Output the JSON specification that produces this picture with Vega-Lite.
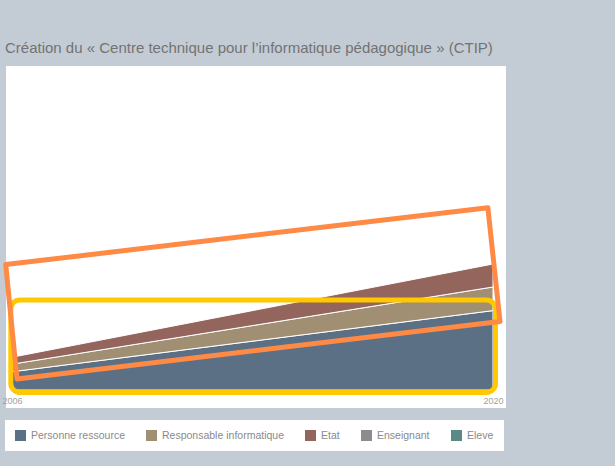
{
  "$schema": "https://vega.github.io/schema/vega-lite/v6.json",
  "width": 500,
  "height": 342,
  "autosize": {"type": "none"},
  "padding": {"left": 6, "top": 66, "right": 109, "bottom": 58},
  "background": "#c3ccd4",
  "config": {"view": {"fill": "white", "stroke": null}, "font": "Liberation Sans"},
  "title": {
    "text": "Création du « Centre technique pour l’informatique pédagogique » (CTIP)",
    "anchor": "start",
    "frame": "group",
    "fontSize": 15,
    "fontWeight": "normal",
    "color": "#737373",
    "baseline": "alphabetic",
    "offset": 10,
    "dy": 12,
    "dx": -1
  },
  "datasets": {
    "series": [
      {"year": 2006, "role": "Personne ressource", "rank": 1, "value": 5.8},
      {"year": 2020, "role": "Personne ressource", "rank": 1, "value": 25.2},
      {"year": 2006, "role": "Responsable informatique", "rank": 2, "value": 2.4},
      {"year": 2020, "role": "Responsable informatique", "rank": 2, "value": 7.5},
      {"year": 2006, "role": "Etat", "rank": 3, "value": 2.2},
      {"year": 2020, "role": "Etat", "rank": 3, "value": 7.3}
    ],
    "yellowBox": [
      {"year": 2005.965, "year2": 2020.073, "value": 28.57, "value2": -0.79}
    ],
    "orangeBox": [
      {"i": 1, "year": 2005.817, "value": 39.81},
      {"i": 2, "year": 2019.851, "value": 57.87},
      {"i": 3, "year": 2020.204, "value": 21.75},
      {"i": 4, "year": 2006.146, "value": 3.49}
    ]
  },
  "layer": [
    {
      "data": {"name": "series"},
      "mark": {"type": "area", "stroke": "white", "strokeWidth": 1, "opacity": 1},
      "encoding": {
        "x": {
          "field": "year", "type": "quantitative",
          "scale": {"domain": [2006, 2020], "range": [6, 487], "nice": false, "zero": false},
          "axis": {"values": [2006, 2020], "format": "d", "domain": false, "ticks": false, "grid": false, "labelFontSize": 9, "labelColor": "#a0a0a0", "title": null, "offset": -14, "labelPadding": 2, "labelFlush": false}
        },
        "y": {
          "field": "value", "type": "quantitative", "stack": "zero",
          "scale": {"domain": [0, 100], "range": [324, 9], "nice": false, "zero": false},
          "axis": null
        },
        "color": {
          "field": "role", "type": "nominal",
          "scale": {
            "domain": ["Personne ressource", "Responsable informatique", "Etat", "Enseignant", "Eleve"],
            "range": ["#5b7084", "#a08f73", "#93655d", "#8c8c8c", "#5b8a86"]
          },
          "legend": {
            "title": null, "orient": "none", "legendX": -1, "legendY": 354,
            "direction": "horizontal", "columns": 5, "fillColor": "white", "padding": 10,
            "columnPadding": 21, "symbolType": "square", "symbolSize": 121, "symbolStrokeWidth": 0,
            "symbolOpacity": 1, "labelFontSize": 10.5, "labelColor": "#8a8a8a", "labelOffset": 5
          }
        },
        "order": {"field": "rank", "type": "quantitative"}
      }
    },
    {
      "data": {"name": "yellowBox"},
      "mark": {"type": "rect", "filled": false, "stroke": "#ffc800", "strokeWidth": 5, "cornerRadius": 9},
      "encoding": {
        "x": {"field": "year", "type": "quantitative", "scale": {"domain": [2006, 2020], "range": [6, 487], "nice": false, "zero": false}, "axis": {"values": [2006, 2020], "format": "d", "domain": false, "ticks": false, "grid": false, "labelFontSize": 9, "labelColor": "#a0a0a0", "title": null, "offset": -14, "labelPadding": 2, "labelFlush": false}},
        "x2": {"field": "year2"},
        "y": {"field": "value", "type": "quantitative", "scale": {"domain": [0, 100], "range": [324, 9], "nice": false, "zero": false}, "axis": null},
        "y2": {"field": "value2"}
      }
    },
    {
      "data": {"name": "orangeBox"},
      "mark": {"type": "line", "interpolate": "linear-closed", "stroke": "#ff8a45", "strokeWidth": 5, "strokeJoin": "round"},
      "encoding": {
        "x": {"field": "year", "type": "quantitative", "scale": {"domain": [2006, 2020], "range": [6, 487], "nice": false, "zero": false}, "axis": {"values": [2006, 2020], "format": "d", "domain": false, "ticks": false, "grid": false, "labelFontSize": 9, "labelColor": "#a0a0a0", "title": null, "offset": -14, "labelPadding": 2, "labelFlush": false}},
        "y": {"field": "value", "type": "quantitative", "scale": {"domain": [0, 100], "range": [324, 9], "nice": false, "zero": false}, "axis": null},
        "order": {"field": "i", "type": "quantitative"}
      }
    }
  ]
}
